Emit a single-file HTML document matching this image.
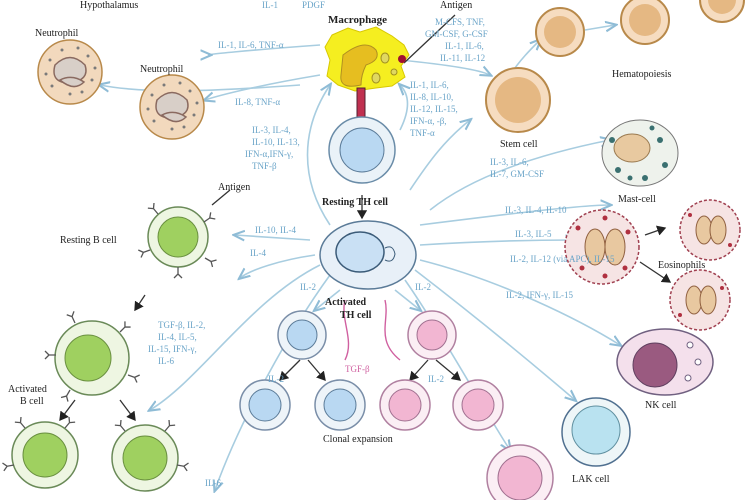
<!DOCTYPE html><html><head><style>body{margin:0;background:#fff}svg{display:block}</style></head><body>
<svg width="750" height="500" viewBox="0 0 750 500" xmlns="http://www.w3.org/2000/svg" font-family="Liberation Serif, serif">
<defs><marker id="a" markerWidth="8" markerHeight="8" refX="6" refY="4" orient="auto"><path d="M0,1 L7,4 L0,7" fill="none" stroke="#8fbcd6" stroke-width="1.3"/></marker>
<marker id="b" markerWidth="8" markerHeight="8" refX="6" refY="4" orient="auto"><path d="M0,0 L7,4 L0,8z" fill="#222"/></marker>
<g id="y"><path d="M0,0 L0,-7 M0,-7 L-4,-11 M0,-7 L4,-11" stroke="#555" stroke-width="1.3" fill="none"/></g>
<g id="dots" fill="#7a7a7a"><circle cx="-20" cy="-12" r="1.5"/><circle cx="18" cy="-16" r="1.5"/><circle cx="22" cy="8" r="1.5"/><circle cx="-18" cy="14" r="1.5"/><circle cx="0" cy="22" r="1.5"/><circle cx="-24" cy="2" r="1.5"/><circle cx="8" cy="-24" r="1.5"/><circle cx="12" cy="20" r="1.5"/><circle cx="-8" cy="-22" r="1.5"/><circle cx="25" cy="-4" r="1.5"/></g>
</defs>
<g stroke="#a8cde0" stroke-width="1.6" fill="none" marker-end="url(#a)">
<path d="M320,45 C250,50 200,55 210,55"/><path d="M320,75 C260,85 220,95 205,100"/>
<path d="M300,85 C230,90 150,95 100,85"/>
<path d="M400,60 C450,65 480,70 490,75"/>
<path d="M510,75 C520,60 530,50 540,40"/><path d="M585,30 L615,25"/>
<path d="M430,210 C480,170 560,150 610,140"/><path d="M420,225 C500,215 580,205 610,205"/>
<path d="M420,245 C500,240 560,240 575,240"/><path d="M420,260 C500,280 580,320 620,345"/>
<path d="M415,270 C480,320 540,370 575,400"/><path d="M405,280 C440,330 490,420 510,450"/>
<path d="M310,240 L235,235"/><path d="M315,255 C280,260 250,270 240,278"/>
<path d="M320,265 C250,300 200,380 150,410"/><path d="M330,275 C290,330 240,420 215,490"/>
<path d="M410,190 C430,160 445,140 470,120"/><path d="M400,130 C410,110 410,95 400,85"/>
<path d="M330,225 C300,180 300,130 330,85"/>
<path d="M340,290 L315,310"/><path d="M395,290 L420,310"/>
</g>
<g stroke="#333" stroke-width="1.3" fill="none">
<path d="M145,295 L135,310" marker-end="url(#b)"/><path d="M75,400 L60,420" marker-end="url(#b)"/><path d="M120,400 L135,420" marker-end="url(#b)"/>
<path d="M362,195 L362,218" marker-end="url(#b)"/>
<path d="M300,360 L280,380" marker-end="url(#b)"/><path d="M308,360 L325,380" marker-end="url(#b)"/>
<path d="M428,360 L410,380" marker-end="url(#b)"/><path d="M436,360 L460,380" marker-end="url(#b)"/>
<path d="M645,235 L665,228" marker-end="url(#b)"/><path d="M640,262 L670,282" marker-end="url(#b)"/>
<path d="M404,63 L455,15"/><path d="M212,205 L230,190"/>
</g>
<g stroke="#d060a0" stroke-width="1.4" fill="none"><path d="M345,300 C340,320 355,340 345,360"/><path d="M385,300 C390,320 375,340 400,360"/></g>
<g stroke="#b8894a" stroke-width="2" fill="#f6dcc0"><circle cx="560" cy="32" r="24"/><circle cx="645" cy="20" r="24"/><circle cx="722" cy="0" r="22"/><circle cx="518" cy="100" r="32"/></g>
<g fill="#e5b883"><circle cx="560" cy="32" r="16"/><circle cx="645" cy="20" r="16"/><circle cx="722" cy="0" r="14"/><circle cx="518" cy="100" r="23"/></g>
<g stroke="#b8894a" stroke-width="1.5" fill="#f2d9bd"><circle cx="70" cy="72" r="32"/><circle cx="172" cy="107" r="32"/></g>
<use href="#dots" x="70" y="72"/><use href="#dots" x="172" y="107"/>
<g stroke="#8a6a60" fill="#d8cfc8" stroke-width="1.5"><path d="M55,65 q15,-15 30,0 q5,15 -15,18 q-20,0 -15,-18z"/><path d="M60,80 q12,-6 24,2 q-10,10 -24,-2z"/><path d="M157,100 q15,-15 30,0 q5,15 -15,18 q-20,0 -15,-18z"/><path d="M162,115 q12,-6 24,2 q-10,10 -24,-2z"/></g>
<path d="M332,35 L348,28 L360,32 L376,27 L392,36 L404,45 L409,55 L401,66 L405,77 L392,86 L376,88 L355,91 L338,85 L327,76 L330,60 L325,47z" fill="#f5ee20" stroke="#d8c800"/>
<path d="M343,55 q22,-17 33,-5 q5,10 -10,15 q-5,10 -5,20 q-22,5 -20,-10z" fill="#e6be20" stroke="#b09020"/>
<g fill="#e0d860" stroke="#a09020"><ellipse cx="385" cy="58" rx="4" ry="5"/><ellipse cx="376" cy="78" rx="4" ry="5"/><ellipse cx="394" cy="72" rx="3" ry="3"/></g>
<circle cx="402" cy="59" r="4" fill="#a01030"/>
<rect x="357" y="88" width="8" height="35" fill="#c03050" stroke="#502030"/>
<circle cx="362" cy="150" r="33" fill="#eaf2f8" stroke="#6a8ca8" stroke-width="1.5"/><circle cx="362" cy="150" r="22" fill="#b9d8f2" stroke="#5b7b98"/>
<ellipse cx="368" cy="255" rx="48" ry="34" fill="#e8f0f8" stroke="#5b7b98" stroke-width="1.5"/><ellipse cx="360" cy="252" rx="24" ry="20" fill="#c9e0f4" stroke="#3b5b78" stroke-width="1.5"/>
<path d="M385,248 q8,-4 10,6 q-2,10 -10,6" fill="none" stroke="#3b5b78"/>
<g stroke="#7a8ea8" stroke-width="1.5" fill="#eef4f9"><circle cx="302" cy="335" r="24"/><circle cx="265" cy="405" r="25"/><circle cx="340" cy="405" r="25"/></g>
<g fill="#b9d8f2" stroke="#5b7b98"><circle cx="302" cy="335" r="15"/><circle cx="265" cy="405" r="16"/><circle cx="340" cy="405" r="16"/></g>
<g stroke="#b080a0" stroke-width="1.5" fill="#fbeef4"><circle cx="432" cy="335" r="24"/><circle cx="405" cy="405" r="25"/><circle cx="478" cy="405" r="25"/><circle cx="520" cy="478" r="33"/></g>
<g fill="#f2b6d2" stroke="#a07090"><circle cx="432" cy="335" r="15"/><circle cx="405" cy="405" r="16"/><circle cx="478" cy="405" r="16"/><circle cx="520" cy="478" r="22"/></g>
<g stroke="#6a8a58" stroke-width="1.5" fill="#eef6e2"><circle cx="178" cy="237" r="30"/><circle cx="92" cy="358" r="37"/><circle cx="45" cy="455" r="33"/><circle cx="145" cy="458" r="33"/></g>
<g fill="#9fd060" stroke="#6a9040"><circle cx="178" cy="237" r="20"/><circle cx="88" cy="358" r="23"/><circle cx="45" cy="455" r="22"/><circle cx="145" cy="458" r="22"/></g>
<use href="#y" transform="translate(158,214) rotate(-40)"/><use href="#y" transform="translate(204,222) rotate(55)"/><use href="#y" transform="translate(150,250) rotate(-110)"/><use href="#y" transform="translate(205,258) rotate(120)"/><use href="#y" transform="translate(178,267) rotate(180)"/>
<use href="#y" transform="translate(75,323) rotate(-25)"/><use href="#y" transform="translate(120,332) rotate(45)"/><use href="#y" transform="translate(56,355) rotate(-90)"/><use href="#y" transform="translate(128,375) rotate(110)"/><use href="#y" transform="translate(70,390) rotate(-150)"/>
<use href="#y" transform="translate(25,428) rotate(-40)"/><use href="#y" transform="translate(65,428) rotate(40)"/><use href="#y" transform="translate(125,431) rotate(-40)"/><use href="#y" transform="translate(165,431) rotate(40)"/><use href="#y" transform="translate(14,465) rotate(-100)"/><use href="#y" transform="translate(177,465) rotate(100)"/>
<ellipse cx="640" cy="153" rx="38" ry="33" fill="#eef2ec" stroke="#777"/><ellipse cx="632" cy="148" rx="18" ry="14" fill="#e8c9a0" stroke="#9a7a50"/>
<g fill="#3a7070"><circle cx="618" cy="170" r="3"/><circle cx="660" cy="140" r="3"/><circle cx="665" cy="165" r="3"/><circle cx="645" cy="178" r="3"/><circle cx="612" cy="140" r="3"/><circle cx="652" cy="128" r="2.5"/><circle cx="630" cy="178" r="2.5"/></g>
<g fill="#f6e4e4" stroke="#a04050" stroke-width="1.5" stroke-dasharray="3 2"><circle cx="602" cy="247" r="37"/><circle cx="710" cy="230" r="30"/><circle cx="700" cy="300" r="30"/></g>
<g fill="#b03040"><circle cx="578" cy="228" r="2.5"/><circle cx="628" cy="232" r="2.5"/><circle cx="582" cy="268" r="2.5"/><circle cx="625" cy="268" r="2.5"/><circle cx="605" cy="218" r="2.5"/><circle cx="605" cy="276" r="2.5"/><circle cx="690" cy="215" r="2"/><circle cx="730" cy="245" r="2"/><circle cx="680" cy="315" r="2"/><circle cx="722" cy="288" r="2"/></g>
<g fill="#e8c8a0" stroke="#906040"><ellipse cx="595" cy="247" rx="10" ry="18"/><ellipse cx="615" cy="247" rx="10" ry="18"/><ellipse cx="704" cy="230" rx="8" ry="14"/><ellipse cx="718" cy="230" rx="8" ry="14"/><ellipse cx="694" cy="300" rx="8" ry="14"/><ellipse cx="708" cy="300" rx="8" ry="14"/></g>
<ellipse cx="665" cy="362" rx="48" ry="33" fill="#f4e0ec" stroke="#706080" stroke-width="1.5"/><circle cx="655" cy="365" r="22" fill="#9a5a80" stroke="#604060"/>
<g fill="#fff" stroke="#706080"><circle cx="690" cy="345" r="3"/><circle cx="698" cy="362" r="3"/><circle cx="688" cy="378" r="3"/></g>
<circle cx="596" cy="432" r="34" fill="#eef6f8" stroke="#507090" stroke-width="1.5"/><circle cx="596" cy="430" r="24" fill="#b9e2f0" stroke="#6090a0"/>
<g font-size="10" fill="#222">
<text x="80" y="8">Hypothalamus</text><text x="35" y="36">Neutrophil</text><text x="140" y="72">Neutrophil</text>
<text x="328" y="23" font-weight="bold" font-size="11">Macrophage</text><text x="440" y="8">Antigen</text>
<text x="612" y="77">Hematopoiesis</text><text x="500" y="147">Stem cell</text><text x="322" y="205" font-weight="bold">Resting TH cell</text>
<text x="218" y="190">Antigen</text><text x="60" y="243">Resting B cell</text><text x="618" y="202">Mast-cell</text>
<text x="658" y="268">Eosinophils</text><text x="325" y="305" font-weight="bold">Activated</text><text x="340" y="318" font-weight="bold">TH cell</text>
<text x="8" y="392">Activated</text><text x="20" y="404">B cell</text><text x="323" y="442">Clonal expansion</text>
<text x="645" y="408">NK cell</text><text x="572" y="482">LAK cell</text></g>
<g font-size="9" fill="#6aa4c8">
<text x="262" y="8">IL-1</text><text x="302" y="8">PDGF</text><text x="218" y="48">IL-1, IL-6, TNF-α</text><text x="235" y="105">IL-8, TNF-α</text>
<text x="435" y="25">M-CFS, TNF,</text><text x="425" y="37">GM-CSF, G-CSF</text><text x="445" y="49">IL-1, IL-6,</text><text x="440" y="61">IL-11, IL-12</text>
<text x="410" y="88">IL-1, IL-6,</text><text x="410" y="100">IL-8, IL-10,</text><text x="410" y="112">IL-12, IL-15,</text><text x="410" y="124">IFN-α, -β,</text><text x="410" y="136">TNF-α</text>
<text x="252" y="133">IL-3, IL-4,</text><text x="252" y="145">IL-10, IL-13,</text><text x="245" y="157">IFN-α,IFN-γ,</text><text x="252" y="169">TNF-β</text>
<text x="490" y="165">IL-3, IL-6,</text><text x="490" y="177">IL-7, GM-CSF</text><text x="505" y="213">IL-3, IL-4, IL-10</text><text x="515" y="237">IL-3, IL-5</text>
<text x="510" y="262">IL-2, IL-12 (via APC), IL-15</text><text x="506" y="298">IL-2, IFN-γ, IL-15</text>
<text x="255" y="233">IL-10, IL-4</text><text x="250" y="256">IL-4</text>
<text x="158" y="328">TGF-β, IL-2,</text><text x="158" y="340">IL-4, IL-5,</text><text x="148" y="352">IL-15, IFN-γ,</text><text x="158" y="364">IL-6</text>
<text x="300" y="290">IL-2</text><text x="415" y="290">IL-2</text><text x="345" y="372" fill="#d060a0">TGF-β</text>
<text x="268" y="382">IL-2</text><text x="428" y="382">IL-2</text><text x="205" y="486">IL-6</text>
</g>
</svg></body></html>
